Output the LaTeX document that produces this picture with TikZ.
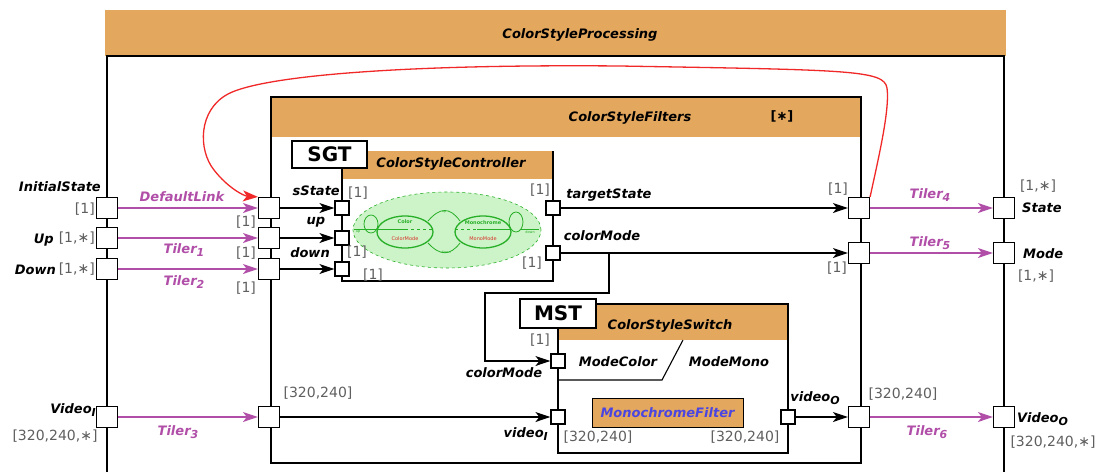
\documentclass[tikz,border=0pt]{standalone}
\usepackage{fontspec}
\setmainfont{DejaVu Sans}
\usetikzlibrary{arrows.meta}
\definecolor{hdr}{RGB}{227,167,94}
\definecolor{tiler}{RGB}{176,78,168}
\definecolor{mgray}{RGB}{95,95,95}
\definecolor{gfill}{RGB}{205,243,200}
\definecolor{gline}{RGB}{40,175,40}
\definecolor{sred}{RGB}{215,50,40}
\definecolor{fblue}{RGB}{75,70,225}
\definecolor{rline}{RGB}{240,40,40}
\newcommand\lsub[1]{\raisebox{-0.45ex}{\fontsize{11}{11}\selectfont #1}}
\begin{document}
\begin{tikzpicture}[x=1pt,y=-1pt,
  lbl/.style={font=\fontsize{13}{13}\selectfont\bfseries\itshape, inner sep=0},
  mult/.style={font=\fontsize{14}{14}\selectfont, text=mgray, inner sep=0},
  tl/.style={lbl, text=tiler},
  port/.style={draw, fill=white, minimum size=21pt, inner sep=0, line width=1.2pt},
  sport/.style={draw, fill=white, minimum size=14pt, inner sep=0, line width=1.2pt},
  parr/.style={draw=tiler, line width=1.3pt, -{Stealth[length=15pt,width=10pt,inset=4pt]}},
  barr/.style={draw=black, line width=1.2pt, -{Stealth[length=15pt,width=10pt,inset=4pt]}},
  box/.style={line width=1.3pt},
  tag/.style={draw, fill=white, line width=1.3pt, font=\fontsize{20}{20}\selectfont\bfseries, inner sep=0},
  tiny/.style={font=\fontsize{5}{5}\selectfont\bfseries, inner sep=0},
]
\useasboundingbox (0,0) rectangle (1100,472);

% outer component
\fill[hdr] (105,10) rectangle (1006,56);
\node[lbl] (tproc) at (580,35) {ColorStyleProcessing};
\draw[box] (107,472) -- (107,56) -- (1004,56) -- (1004,472);

% ColorStyleFilters
\fill[hdr] (271,97) rectangle (861,137);
\draw[box] (271,97) rectangle (861,463);
\draw[line width=2pt] (271,97) -- (861,97);
\node[lbl] (tfil) at (630,118) {ColorStyleFilters};
\node[font=\fontsize{13}{13}\selectfont\bfseries, inner sep=0] (mfil) at (782,116) {[∗]};

% ColorStyleController
\fill[hdr] (342,151) rectangle (553,179);
\draw[box] (342,151) -- (342,281) -- (553,281) -- (553,151);
\node[lbl] (tctl) at (451,164) {ColorStyleController};
\node[tag, minimum width=75pt, minimum height=27pt] (sgt) at (329.5,154.5) {SGT};

% state machine
\draw[gline, dashed, fill=gfill, line width=0.6pt] (447,230) ellipse [x radius=94pt, y radius=38pt];
\draw[gline, line width=0.8pt, fill=gfill] (371,224) ellipse [x radius=7pt, y radius=9pt];
\draw[gline, line width=0.8pt, fill=gfill] (516,222) ellipse [x radius=7pt, y radius=10pt];
\draw[gline, line width=0.8pt] (428,221) .. controls (440,207) and (450,207) .. (460,221);
\draw[gline, line width=0.8pt] (460,243) .. controls (450,256) and (440,256) .. (428,243);
\draw[gline, line width=1.3pt, fill=gfill] (405,232) ellipse [x radius=28pt, y radius=16pt];
\draw[gline, line width=1.3pt, fill=gfill] (483,232) ellipse [x radius=28pt, y radius=16pt];
\draw[gline, line width=0.9pt] (354,229) -- (405,229);
\draw[gline, line width=0.9pt, dashed] (405,229) -- (433,229);
\draw[gline, line width=0.9pt, dashed] (455,229) -- (477,229);
\draw[gline, line width=0.9pt] (477,229) -- (511,229);
\draw[gline, line width=0.9pt] (521,229) -- (539,229);
\node[tiny, text=gline] (s1a) at (405,222) {Color};
\node[tiny, text=sred, font=\fontsize{5}{5}\selectfont] (s1b) at (405,239) {ColorMode};
\node[tiny, text=gline] (s2a) at (483,223) {Monochrome};
\node[tiny, text=sred, font=\fontsize{5}{5}\selectfont] (s2b) at (483,239) {MonoMode};
\node[tiny, text=gline, font=\fontsize{3.5}{4}\selectfont] (tu1) at (444,212) {up};
\node[tiny, text=gline, font=\fontsize{3.5}{4}\selectfont] (td1) at (446,252) {down};
\node[tiny, text=gline, font=\fontsize{3.5}{4}\selectfont] (tu2) at (358,232) {up};
\node[tiny, text=gline, font=\fontsize{3.5}{4}\selectfont] (td2) at (530,232) {down};

% ColorStyleSwitch
\fill[hdr] (558,304) rectangle (788,340);
\draw[box] (558,304) -- (788,304) -- (788,453) -- (558,453) -- cycle;
\node[lbl] (tsw) at (670,326) {ColorStyleSwitch};
\node[tag, minimum width=76pt, minimum height=29pt] (mst) at (558,313.5) {MST};
\draw[line width=1.1pt] (558,380) -- (662,380) -- (683,340);
\node[lbl] (mcol) at (618,362) {ModeColor};
\node[lbl] (mmon) at (729,362) {ModeMono};
\node[draw, line width=1pt, fill=hdr, minimum width=151pt, minimum height=29pt, inner sep=0, text=fblue, font=\fontsize{13}{13}\selectfont\bfseries\itshape] (mono) at (667.5,412.5) {MonochromeFilter};

% ports
\node[port] (pIS) at (107,208) {};
\node[port] (pUp) at (107,238) {};
\node[port] (pDown) at (107,269) {};
\node[port] (pVI) at (107,417) {};
\node[port] (pState) at (1004,208) {};
\node[port] (pMode) at (1004,253) {};
\node[port] (pVO) at (1004,417) {};
\node[port] (fIS) at (269,208) {};
\node[port] (fUp) at (269,238) {};
\node[port] (fDown) at (269,269) {};
\node[port] (fVI) at (269,417) {};
\node[port] (fTS) at (859,208) {};
\node[port] (fCM) at (859,253) {};
\node[port] (fVO) at (859,417) {};
\node[sport] (cS) at (342,208) {};
\node[sport] (cU) at (342,238) {};
\node[sport] (cD) at (342,269) {};
\node[sport] (cT) at (553,208) {};
\node[sport] (cM) at (553,253) {};
\node[sport] (mC) at (558,361) {};
\node[sport] (mVI) at (558,417) {};
\node[sport] (mVO) at (788,417) {};

% connectors
\draw[parr] (pIS) -- (fIS);
\draw[parr] (pUp) -- (fUp);
\draw[parr] (pDown) -- (fDown);
\draw[parr] (pVI) -- (fVI);
\draw[parr] (fTS) -- (pState);
\draw[parr] (fCM) -- (pMode);
\draw[parr] (fVO) -- (pVO);
\draw[barr] (fIS) -- (cS);
\draw[barr] (fUp) -- (cU);
\draw[barr] (fDown) -- (cD);
\draw[barr] (cT) -- (fTS);
\draw[barr] (cM) -- (fCM);
\draw[barr] (fVI) -- (mVI);
\draw[barr] (mVO) -- (fVO);
\coordinate (br) at (609,253);
\draw[barr] (br) |- (485,293) |- (mC);
\draw[rline, line width=1.3pt, -{Stealth[length=15pt,width=11pt,inset=4pt]}]
  (fTS.north east) .. controls (878,160) and (890,110) .. (887,88)
  .. controls (884,70) and (850,70) .. (620,66)
  .. controls (400,64) and (262,76) .. (228,94)
  .. controls (198,110) and (198,150) .. (214,170)
  .. controls (228,188) and (244,196) .. (fIS.north west);

% labels left
\node[lbl, anchor=east] (lIS) at (101,187) {InitialState};
\node[mult, anchor=east] (mIS) at (95,209) {[1]};
\node[lbl, anchor=east] (lUp) at (54,240) {Up};
\node[mult, anchor=east] (mUp) at (95,238) {[1,∗]};
\node[lbl, anchor=east] (lDown) at (56,270) {Down};
\node[mult, anchor=east] (mDown) at (95,269) {[1,∗]};
\node[lbl, anchor=east] (lVI) at (96,410) {Video\lsub{I}};
\node[mult] (mVIo) at (55,436) {[320,240,∗]};
\node[tl] (tDL) at (182,197) {DefaultLink};
\node[tl] (tT1) at (184,250) {Tiler\lsub{1}};
\node[tl] (tT2) at (184,282) {Tiler\lsub{2}};
\node[tl] (tT3) at (178,432) {Tiler\lsub{3}};
\node[mult] (mf1) at (246,222) {[1]};
\node[mult] (mf2) at (246,253) {[1]};
\node[mult] (mf3) at (246,288) {[1]};
\node[mult] (mfv) at (318,393) {[320,240]};

% controller labels
\node[lbl, anchor=east] (lsS) at (340,191) {sState};
\node[lbl] (lup) at (316,222) {up};
\node[lbl] (ldn) at (310,253) {down};
\node[mult] (mc1) at (358,193) {[1]};
\node[mult] (mc2) at (357,252) {[1]};
\node[mult] (mc3) at (373,275) {[1]};
\node[mult] (mc4) at (540,190) {[1]};
\node[mult] (mc5) at (532,263) {[1]};
\node[lbl] (lts) at (609,195) {targetState};
\node[lbl] (lcm) at (602,236) {colorMode};

% switch labels
\node[mult] (ms1) at (540,340) {[1]};
\node[lbl] (lcm2) at (504,373) {colorMode};
\node[lbl, anchor=east] (lvi) at (548,434) {video\lsub{I}};
\node[mult] (ms2) at (598,437) {[320,240]};
\node[mult] (ms3) at (745,437) {[320,240]};
\node[lbl] (lvo) at (815,398) {video\lsub{O}};

% right labels
\node[mult] (mr1) at (838,189) {[1]};
\node[mult] (mr2) at (837,268) {[1]};
\node[tl] (tT4) at (930,195) {Tiler\lsub{4}};
\node[tl] (tT5) at (930,243) {Tiler\lsub{5}};
\node[mult] (mr3) at (903,394) {[320,240]};
\node[tl] (tT6) at (927,432) {Tiler\lsub{6}};
\node[mult] (mSt) at (1038,186) {[1,∗]};
\node[lbl, anchor=west] (lSt) at (1022,208) {State};
\node[lbl, anchor=west] (lMo) at (1023,254) {Mode};
\node[mult] (mMo) at (1036,276) {[1,∗]};
\node[lbl, anchor=west] (lVO) at (1017,419) {Video\lsub{O}};
\node[mult] (mVOo) at (1053,442) {[320,240,∗]};
\end{tikzpicture}
\end{document}
